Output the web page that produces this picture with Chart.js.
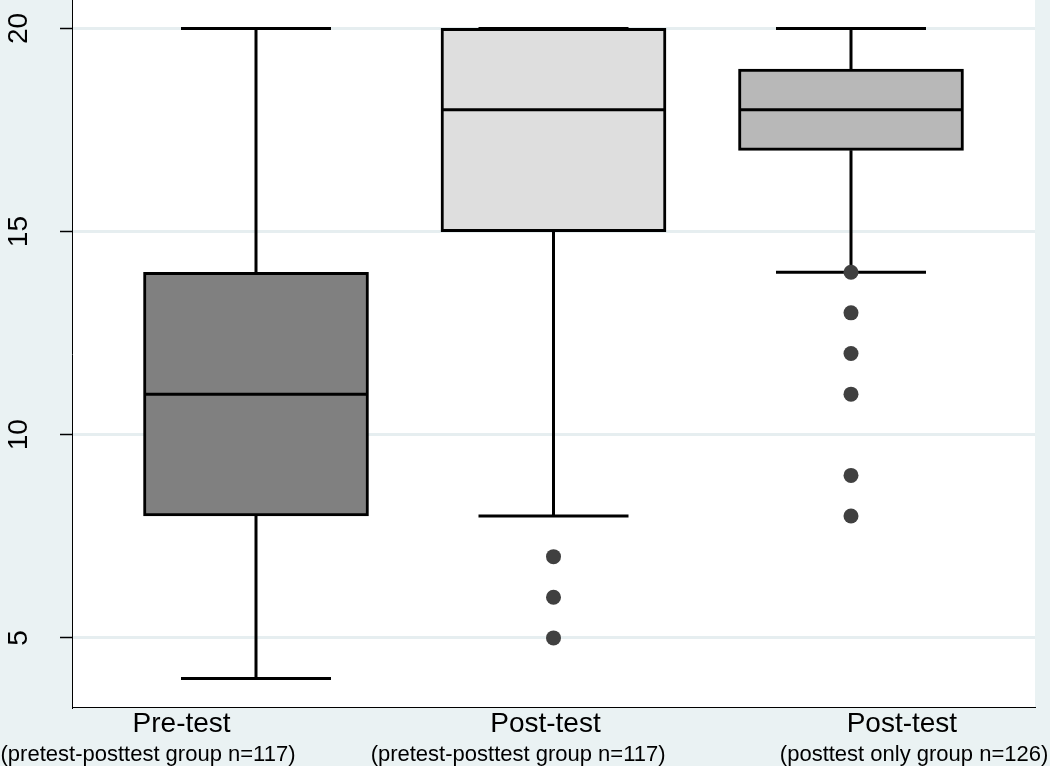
<!DOCTYPE html>
<html>
<head>
<meta charset="utf-8">
<script src="https://cdn.jsdelivr.net/npm/chart.js@4.4.1/dist/chart.umd.min.js"></script>
<style>
  html, body { margin: 0; padding: 0; background: #eaf2f3; }
  canvas { display: block; }
</style>
</head>
<body>
<canvas id="c" width="1050" height="766"></canvas>
<script>
// ---- data ----
const categories = ['Pre-test', 'Post-test', 'Post-test'];
const subLabels = ['(pretest-posttest group n=117)', '(pretest-posttest group n=117)', '(posttest only group n=126)'];
const groupX = [1, 2, 3];
const whiskerLow = [4, 8, 14];
const q1 = [8, 15, 17];
const median = [11, 18, 18];
const q3 = [14, 20, 19];
const whiskerHigh = [20, 20, 20];
const outliers = [[], [7, 6, 5], [14, 13, 12, 11, 9, 8]];
const yTicks = [5, 10, 15, 20];
const labelPos = [0.75, 1.973, 3.171];
const subLabelPos = [0.637, 1.881, 3.212];
const boxColors = ['#808080', '#dedede', '#b8b8b8'];

// ---- derived datasets ----
const boxData = groupX.map((x, i) => ({ x: x, y: [q1[i], q3[i]] }));
const whiskerData = [];
groupX.forEach((x, i) => {
  whiskerData.push({ x: x, y: q3[i] }, { x: x, y: whiskerHigh[i] }, { x: x, y: null });
  whiskerData.push({ x: x, y: q1[i] }, { x: x, y: whiskerLow[i] }, { x: x, y: null });
});
const capData = [];
groupX.forEach((x, i) => {
  capData.push({ x: x, y: whiskerHigh[i] }, { x: x, y: whiskerLow[i] });
});
const medianData = groupX.map((x, i) => ({ x: x, y: median[i] }));
const outlierData = [];
groupX.forEach((x, i) => outliers[i].forEach(v => outlierData.push({ x: x, y: v })));

const FONT = '"Liberation Sans", Arial, sans-serif';

const bgPlugin = {
  id: 'bg',
  beforeDraw(chart) {
    const ctx = chart.ctx, a = chart.chartArea;
    ctx.save();
    ctx.fillStyle = '#eaf2f3';
    ctx.fillRect(0, 0, chart.width, chart.height);
    ctx.fillStyle = '#ffffff';
    ctx.fillRect(a.left, a.top, a.right - a.left, a.bottom - a.top);
    ctx.restore();
  }
};

const yLabelPlugin = {
  id: 'ylabels',
  afterDraw(chart) {
    const ctx = chart.ctx, ys = chart.scales.y;
    ctx.save();
    ctx.fillStyle = '#000';
    ctx.font = '28px ' + FONT;
    ctx.textAlign = 'center';
    ctx.textBaseline = 'alphabetic';
    ys.ticks.forEach(t => {
      const py = ys.getPixelForValue(t.value);
      ctx.save();
      ctx.translate(27, py);
      ctx.rotate(-Math.PI / 2);
      ctx.fillText(String(t.value), 0, 0);
      ctx.restore();
    });
    ctx.restore();
  }
};

const noPad = s => { s.paddingLeft = 0; s.paddingRight = 0; };

new Chart(document.getElementById('c'), {
  type: 'scatter',
  data: {
    datasets: [
      {
        type: 'bar', data: boxData, backgroundColor: boxColors,
        borderColor: '#000', borderWidth: 3, borderSkipped: false,
        barThickness: 225, order: 3
      },
      {
        type: 'line', data: whiskerData, borderColor: '#000', borderWidth: 3,
        pointRadius: 0, spanGaps: false, fill: false, order: 2
      },
      {
        type: 'scatter', data: capData, pointStyle: 'line', pointRadius: 75,
        borderColor: '#000', borderWidth: 3, order: 2
      },
      {
        type: 'scatter', data: medianData, pointStyle: 'line', pointRadius: 112,
        borderColor: '#000', borderWidth: 3, order: 1
      },
      {
        type: 'scatter', data: outlierData, pointStyle: 'circle', pointRadius: 7.5,
        backgroundColor: '#404040', borderWidth: 0, order: 0
      }
    ]
  },
  options: {
    responsive: false,
    animation: false,
    devicePixelRatio: 1,
    events: [],
    layout: { autoPadding: false, padding: { left: 0, right: 15, top: 0, bottom: 0 } },
    plugins: { legend: { display: false }, tooltip: { enabled: false } },
    scales: {
      x: {
        type: 'linear', position: 'bottom', weight: 0, offset: false,
        min: 0.3815, max: 3.6185,
        grid: { display: false, drawTicks: false, offset: false },
        border: { display: true, color: '#000', width: 1 },
        afterBuildTicks: s => { s.ticks = labelPos.map(v => ({ value: v })); },
        afterFit: s => { s.height = 33; noPad(s); },
        ticks: {
          autoSkip: false, minRotation: 0, maxRotation: 0, padding: 0,
          color: '#000', font: { family: FONT, size: 28 },
          callback: (v, i) => categories[i]
        }
      },
      x2: {
        type: 'linear', position: 'bottom', weight: 1, offset: false,
        min: 0.3815, max: 3.6185,
        grid: { display: false, drawTicks: false, offset: false },
        border: { display: false },
        afterBuildTicks: s => { s.ticks = subLabelPos.map(v => ({ value: v })); },
        afterFit: s => { s.height = 26; noPad(s); },
        ticks: {
          autoSkip: false, minRotation: 0, maxRotation: 0, padding: 2,
          color: '#000', font: { family: FONT, size: 22 },
          callback: (v, i) => subLabels[i]
        }
      },
      y: {
        type: 'linear', position: 'left',
        min: 3.3, max: 20.7,
        afterBuildTicks: s => { s.ticks = yTicks.map(v => ({ value: v })); },
        afterFit: s => { s.width = 72; s.paddingTop = 0; s.paddingBottom = 0; },
        grid: {
          color: '#e6eef0', lineWidth: 3, drawTicks: true, tickLength: 12,
          tickColor: '#000', tickWidth: 1.5
        },
        border: { display: true, color: '#000', width: 1 },
        ticks: { display: false }
      }
    }
  },
  plugins: [bgPlugin, yLabelPlugin]
});
</script>
</body>
</html>
